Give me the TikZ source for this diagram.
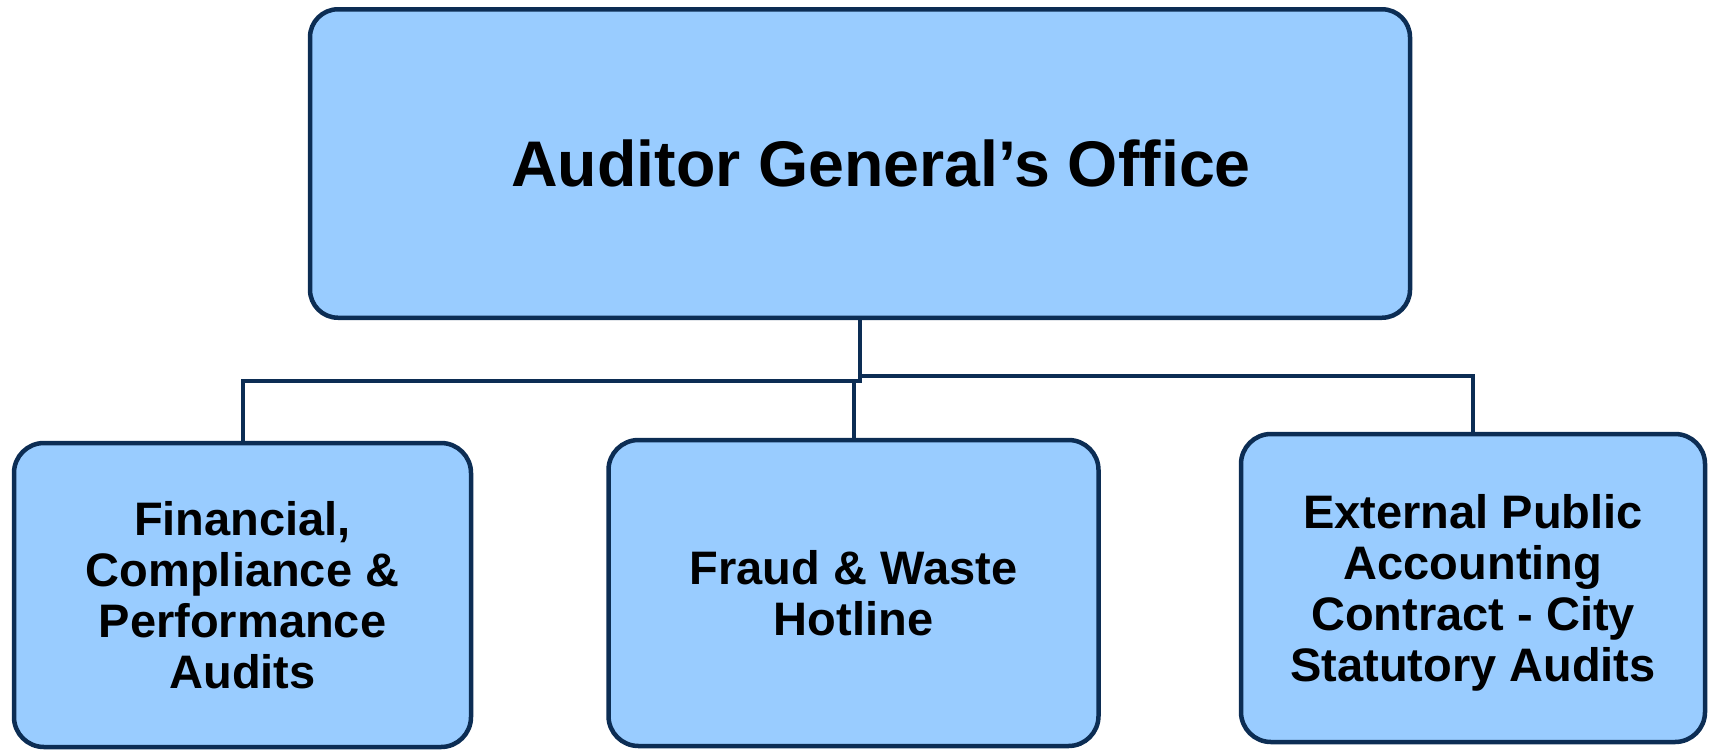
\documentclass[tikz,border=0pt]{standalone}
\usepackage{fontspec}
\setmainfont{Liberation Sans}
\definecolor{boxfill}{RGB}{153,204,255}
\definecolor{boxline}{RGB}{12,45,84}
\tikzset{
  orgbox/.style={draw=boxline, fill=boxfill, line width=4.5pt, rounded corners=30pt,
    align=center, inner sep=0pt, font=\bfseries\fontsize{47}{51}\selectfont},
  conn/.style={draw=boxline, line width=4pt, line cap=rect}
}
\begin{document}
\begin{tikzpicture}[x=1pt,y=-1pt]
\useasboundingbox (0,0) rectangle (1712,750);
\node[orgbox, minimum width=1100pt, minimum height=308.5pt, rounded corners=28pt,
  font=\bfseries\fontsize{64.5}{75}\selectfont] (top) at (860,163.5) {\hspace*{42pt}Auditor General’s Office};
\node[orgbox, minimum width=457pt, minimum height=304pt] (left) at (242.5,595)
  {Financial,\\Compliance \&\\Performance\\Audits};
\node[orgbox, minimum width=490pt, minimum height=306pt] (mid) at (853.5,593)
  {Fraud \& Waste\\Hotline};
\node[orgbox, minimum width=464pt, minimum height=308pt] (right) at (1473,588)
  {\rule{0pt}{44pt}External Public\\Accounting\\Contract - City\\Statutory Audits};
\coordinate (jl) at (860,381);
\coordinate (jr) at (860,375.5);
\draw[conn] (top.south) -- (top.south |- jl);
\draw[conn] (top.south |- jl) -| (left.north);
\draw[conn] (top.south |- jr) -| (right.north);
\draw[conn] (mid.north |- jl) -- (mid.north);
\end{tikzpicture}
\end{document}
